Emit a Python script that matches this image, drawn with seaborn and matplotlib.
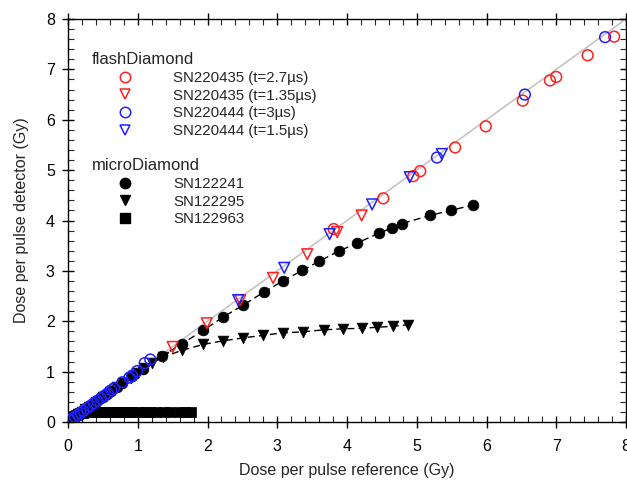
import numpy as np
import pandas as pd
import seaborn as sns
import matplotlib.pyplot as plt
from matplotlib.lines import Line2D
from matplotlib.ticker import MultipleLocator

# ---------------- data ----------------
# flashDiamond SN220435 (t=2.7us)
fd435a_x = [3.81, 4.52, 4.95, 5.05, 5.55, 5.99, 6.52, 6.91, 7.00, 7.45, 7.83]
fd435a_y = [3.83, 4.44, 4.88, 4.98, 5.45, 5.87, 6.38, 6.78, 6.85, 7.28, 7.65]
# flashDiamond SN220435 (t=1.35us)
fd435b_x = [1.50, 1.99, 2.47, 2.94, 3.43, 3.86, 4.21]
fd435b_y = [1.49, 1.96, 2.42, 2.86, 3.33, 3.77, 4.10]
# flashDiamond SN220444 (t=3us)
fd444a_x = [0.03, 0.06, 0.10, 0.14, 0.18, 0.22, 0.27, 0.32, 0.37, 0.42, 0.47,
            0.52, 0.57, 0.62, 0.66, 0.78, 0.88, 0.92, 0.99, 1.10, 1.18,
            5.29, 6.55, 7.70]
fd444a_y = [0.03, 0.06, 0.10, 0.14, 0.18, 0.22, 0.27, 0.32, 0.37, 0.42, 0.47,
            0.52, 0.57, 0.63, 0.67, 0.79, 0.88, 0.92, 1.01, 1.17, 1.24,
            5.25, 6.50, 7.64]
# flashDiamond SN220444 (t=1.5us)
fd444b_x = [2.44, 3.10, 3.75, 4.36, 4.90, 5.36]
fd444b_y = [2.42, 3.06, 3.73, 4.32, 4.86, 5.32]

# microDiamond SN122241
md241_x = [0.02, 0.04, 0.07, 0.10, 0.13, 0.17, 0.21, 0.25, 0.30, 0.35, 0.40,
           0.45, 0.50, 0.56, 0.62, 0.70, 0.78, 0.92, 1.07, 1.35, 1.63, 1.94,
           2.22, 2.51, 2.81, 3.08, 3.36, 3.60, 3.88, 4.14, 4.46, 4.64, 4.79,
           5.19, 5.49, 5.81]
md241_y = [0.02, 0.04, 0.07, 0.10, 0.13, 0.17, 0.21, 0.25, 0.30, 0.35, 0.40,
           0.45, 0.50, 0.55, 0.61, 0.69, 0.77, 0.91, 1.05, 1.31, 1.55, 1.82,
           2.08, 2.32, 2.58, 2.80, 3.01, 3.19, 3.39, 3.55, 3.75, 3.85, 3.94,
           4.10, 4.20, 4.31]
# microDiamond SN122295
md295_x = [0.03, 0.06, 0.10, 0.15, 0.20, 0.25, 0.30, 0.40, 0.50, 0.60, 0.70,
           0.80, 0.90, 1.00, 1.10, 1.20, 1.36, 1.63, 1.94, 2.22, 2.51, 2.80,
           3.08, 3.37, 3.67, 3.94, 4.21, 4.43, 4.66, 4.87]
md295_y = [0.03, 0.06, 0.10, 0.15, 0.20, 0.25, 0.30, 0.39, 0.49, 0.59, 0.69,
           0.78, 0.88, 0.98, 1.07, 1.17, 1.29, 1.42, 1.54, 1.61, 1.67, 1.72,
           1.77, 1.79, 1.83, 1.85, 1.86, 1.88, 1.90, 1.93]
# microDiamond SN122963
md963_x = [0.01, 0.02, 0.04, 0.06, 0.08, 0.11, 0.14, 0.17, 0.22, 0.27, 0.32,
           0.37, 0.42, 0.47, 0.52, 0.57, 0.62, 0.67, 0.72, 0.77, 0.82, 0.87,
           0.92, 1.02, 1.10, 1.18, 1.26, 1.38, 1.46, 1.60, 1.68, 1.76]
md963_y = [0.01, 0.03, 0.06, 0.09, 0.12, 0.14, 0.16, 0.17, 0.18, 0.19, 0.19,
           0.19, 0.19, 0.19, 0.19, 0.19, 0.19, 0.19, 0.19, 0.19, 0.19, 0.19,
           0.19, 0.19, 0.19, 0.19, 0.19, 0.19, 0.19, 0.19, 0.19, 0.19]

identity = [0, 8]

fd_labels = ["SN220435 (t=2.7µs)", "SN220435 (t=1.35µs)",
             "SN220444 (t=3µs)", "SN220444 (t=1.5µs)"]
md_labels = ["SN122241", "SN122295", "SN122963"]
x_label = "Dose per pulse reference (Gy)"
y_label = "Dose per pulse detector (Gy)"

# ---------------- style ----------------
sns.set_style("ticks")
plt.rcParams['font.family'] = ['Liberation Sans', 'DejaVu Sans']

RED = '#ff2020'
BLUE = '#2020ff'
MS = 60  # scatter size (pt^2)

fig = plt.figure(figsize=(6.27, 4.86), dpi=100)
ax = fig.add_axes([68 / 627, 1 - 422 / 486, 558 / 627, 403 / 486])

# identity line
sns.lineplot(x=identity, y=identity, ax=ax, color='#c4c4c4', lw=1.2,
             estimator=None, sort=False, zorder=1)

# microDiamond dashed lines + markers
for xs, ys, mk in [(md241_x, md241_y, 'o'), (md295_x, md295_y, 'v'),
                   (md963_x, md963_y, 's')]:
    sns.lineplot(x=xs, y=ys, ax=ax, color='black', lw=1.0,
                 linestyle=(0, (5, 3)), estimator=None, sort=False, zorder=2)
    sns.scatterplot(x=xs, y=ys, ax=ax, marker=mk, color='black',
                    edgecolor='black', s=MS, linewidth=0.5, zorder=3)

# flashDiamond open markers
for xs, ys, mk, col in [(fd435a_x, fd435a_y, 'o', RED),
                        (fd435b_x, fd435b_y, 'v', RED),
                        (fd444a_x, fd444a_y, 'o', BLUE),
                        (fd444b_x, fd444b_y, 'v', BLUE)]:
    sns.scatterplot(x=xs, y=ys, ax=ax, marker=mk, facecolor='none',
                    edgecolor=col, s=MS, linewidth=1.1, zorder=4)

ax.set_xlim(0, 8)
ax.set_ylim(0, 8)
ax.xaxis.set_major_locator(MultipleLocator(1))
ax.yaxis.set_major_locator(MultipleLocator(1))
ax.xaxis.set_minor_locator(MultipleLocator(0.2))
ax.yaxis.set_minor_locator(MultipleLocator(0.2))
ax.tick_params(which='major', direction='inout', length=9, width=1,
               top=True, right=True, labelsize=11.5, colors='black')
ax.tick_params(axis='x', which='major', pad=8)
ax.tick_params(axis='y', which='major', pad=5)
ax.tick_params(which='minor', direction='in', length=4, width=0.8,
               top=True, right=True)
for sp in ax.spines.values():
    sp.set_linewidth(1.0)
    sp.set_color('black')
    sp.set_visible(True)

ax.set_xlabel(x_label, fontsize=11.5, labelpad=6)
ax.set_ylabel(y_label, fontsize=11.5, labelpad=12)

# legends
def h(mk, col, filled):
    if filled:
        return Line2D([], [], linestyle='none', marker=mk, markersize=7.5,
                      markerfacecolor=col, markeredgecolor=col)
    return Line2D([], [], linestyle='none', marker=mk, markersize=7.5,
                  markerfacecolor='none', markeredgecolor=col,
                  markeredgewidth=1.1)

fd_handles = [h('o', RED, False), h('v', RED, False),
              h('o', BLUE, False), h('v', BLUE, False)]
md_handles = [h('o', 'black', True), h('v', 'black', True),
              h('s', 'black', True)]

common = dict(loc='upper left', frameon=False, borderpad=0, borderaxespad=0,
              handlelength=4.4, handletextpad=1.0, labelspacing=0.25,
              prop={'size': 10.8}, title_fontsize=12, alignment='left')
leg1 = ax.legend(fd_handles, fd_labels, title="flashDiamond",
                 bbox_to_anchor=(24 / 558, 1 - 33 / 403), **common)
ax.add_artist(leg1)
leg2 = ax.legend(md_handles, md_labels, title="microDiamond",
                 bbox_to_anchor=(24 / 558, 1 - 139 / 403), **common)

fig.savefig("out.png", dpi=100)
